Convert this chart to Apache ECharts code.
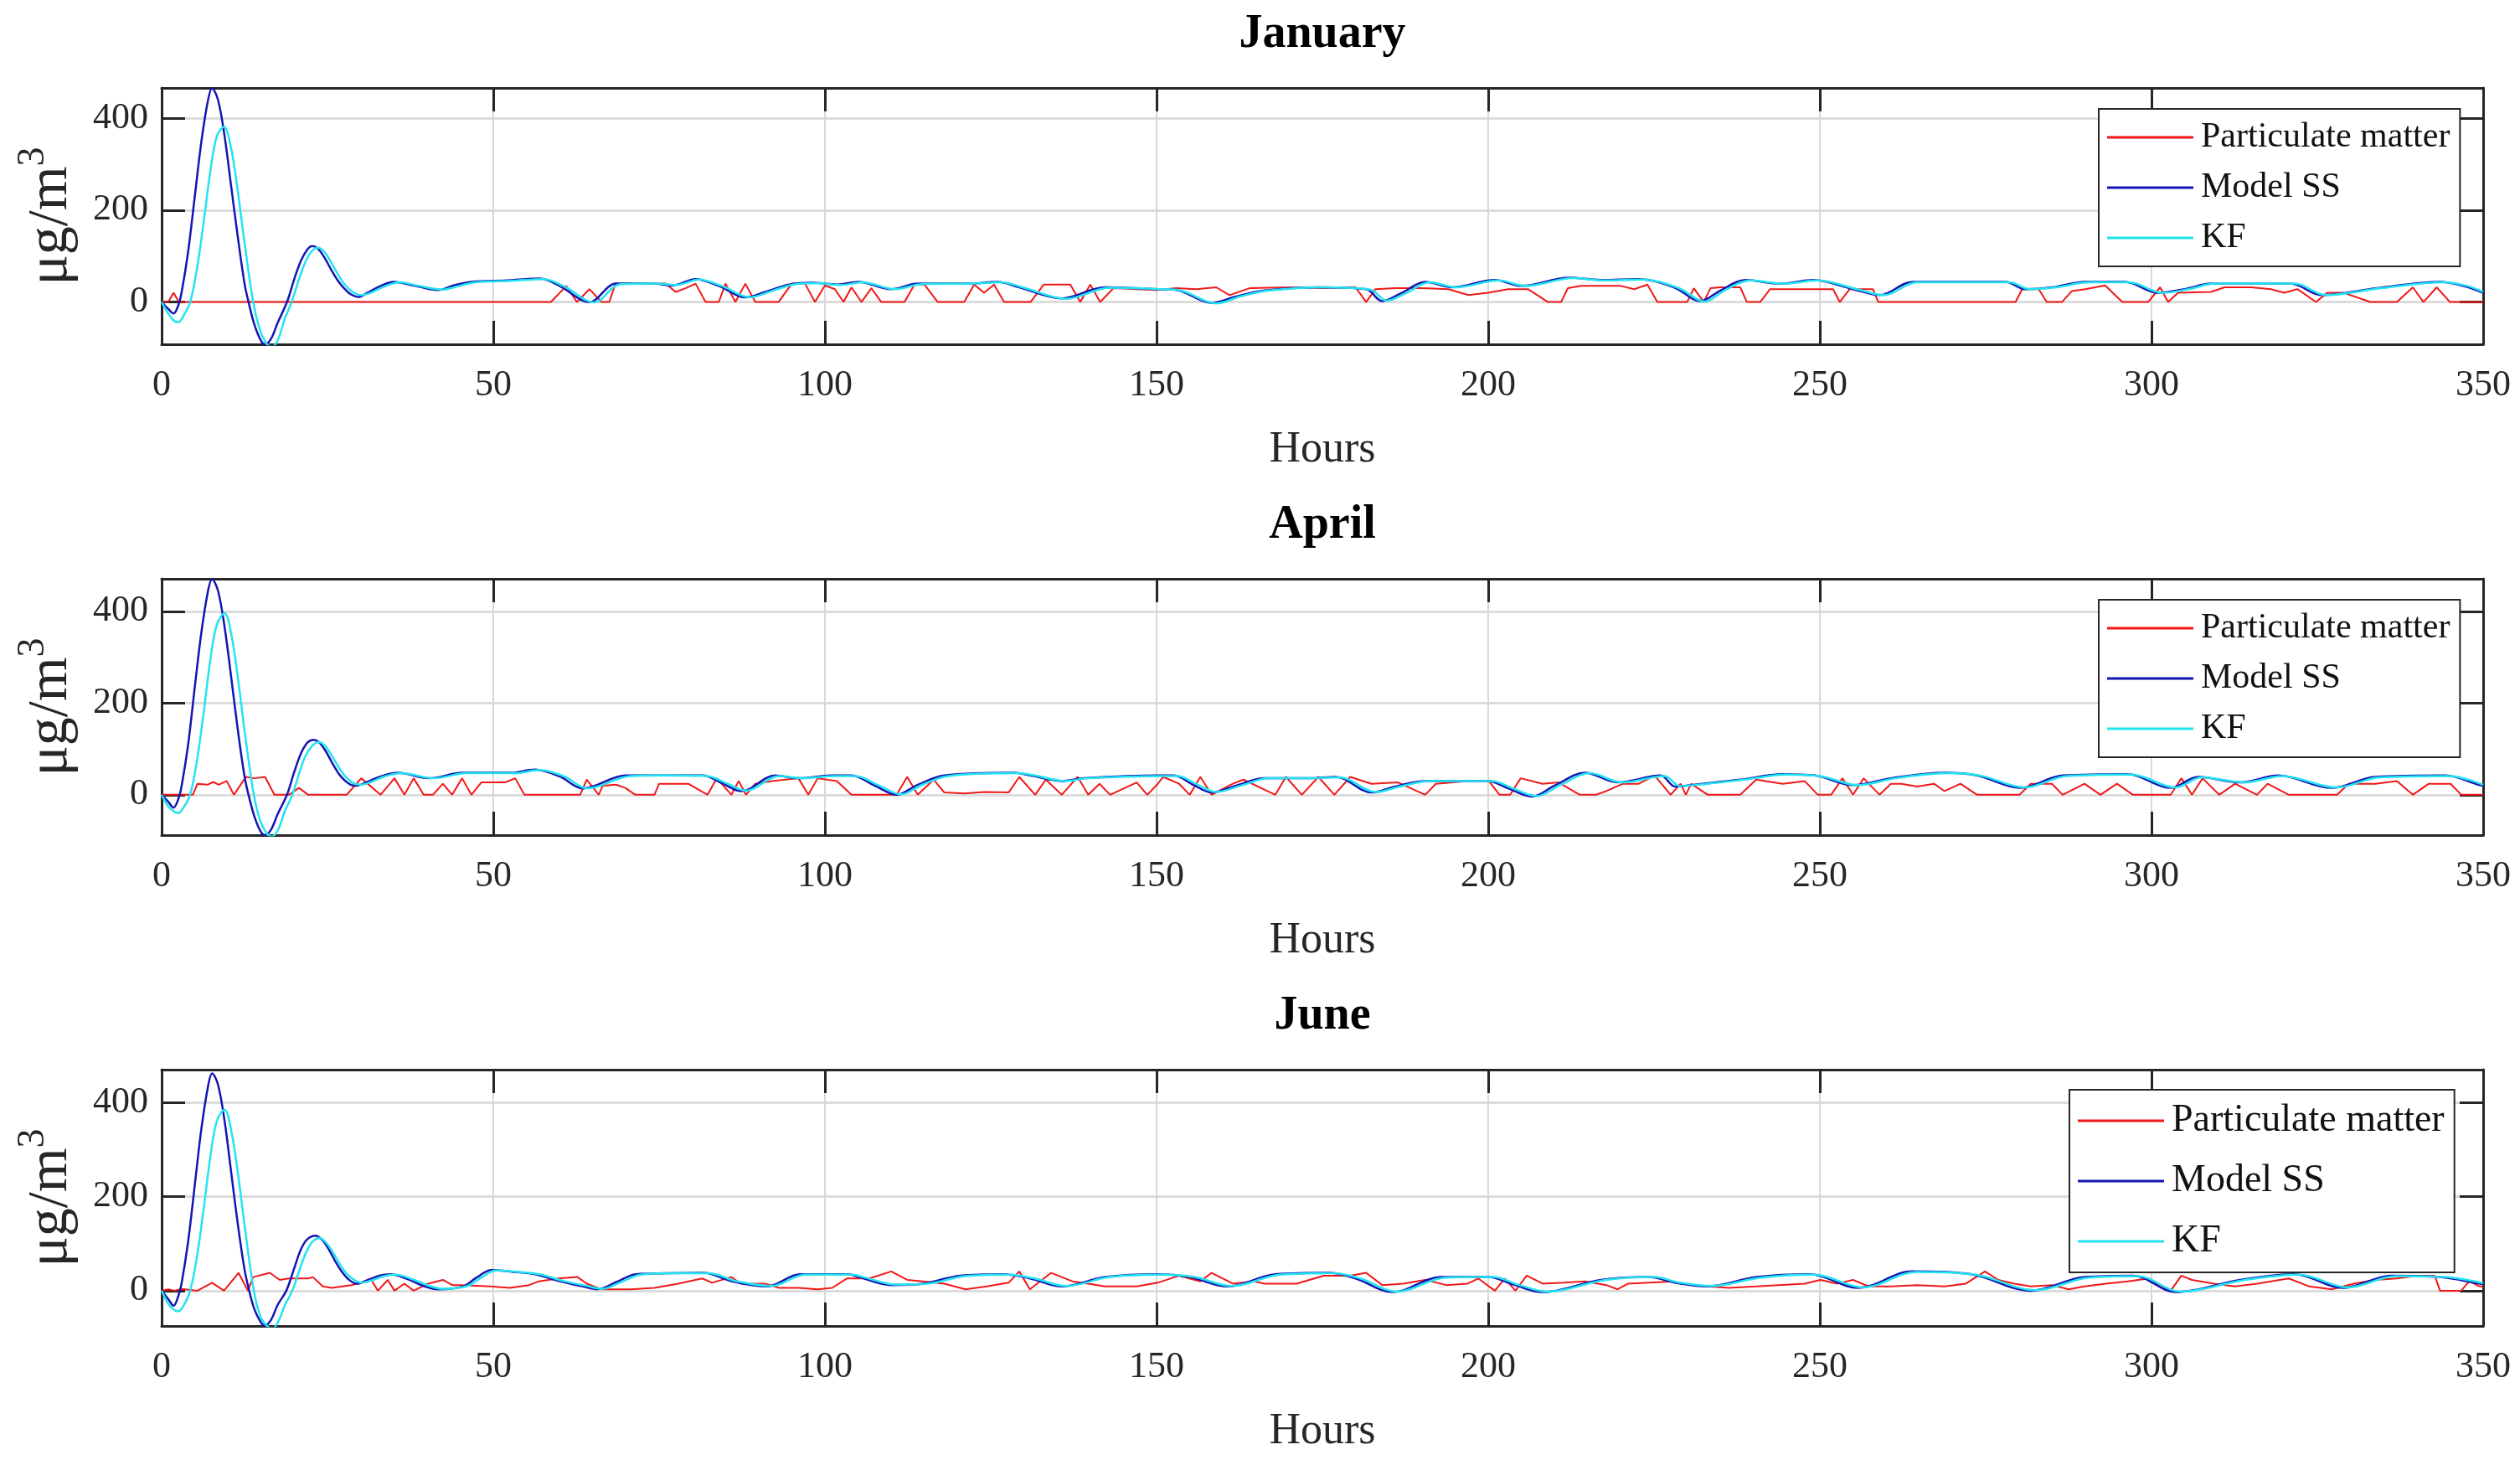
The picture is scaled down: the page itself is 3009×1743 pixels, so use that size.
<!DOCTYPE html>
<html><head><meta charset="utf-8">
<script src="https://cdn.jsdelivr.net/npm/echarts@6/dist/echarts.min.js"></script>
<style>html,body{margin:0;padding:0;background:#fff}#c{width:3009px;height:1743px}</style>
</head><body><div id="c"></div>
<script>
const months = ['January', 'April', 'June'];
const seriesNames = ['Particulate matter', 'Model SS', 'KF'];
const xTicks = [0, 50, 100, 150, 200, 250, 300, 350];
const yTicks = [0, 200, 400];
const yLimits = [[-92, 466], [-88, 471], [-75, 470]];

const janPM = [[0,0],[1,0],[1.8,20],[2.6,0],[58.7,0],[61,35],[62.6,0],[64.5,28],[66.3,0],[67.5,0],[68.4,40],[72,40],[76,40],[77.5,22],[79,30],[80.5,40],[82,0],[84,0],[85,40],[86.5,0],[88,40],[89.5,0],[93,0],[95,40],[97,40],[98.5,0],[100,36],[101.5,28],[102.8,0],[104,32],[105.5,0],[107,30],[108.5,0],[112,0],[113.5,38],[115,38],[117,0],[121,0],[122.5,38],[124,20],[125.5,38],[127,0],[131,0],[133,38],[137,38],[138.5,0],[140,38],[141.5,0],[143.5,30],[150,26],[153,30],[156,28],[159,32],[161,15],[164,30],[170,32],[175,30],[180,32],[181.6,0],[183,28],[186,30],[190,30],[194,28],[197,15],[200,20],[203,28],[206,28],[209,0],[211,0],[212,30],[214,35],[220,35],[222,28],[224,38],[225.5,0],[230,0],[231,30],[232.5,0],[233.5,30],[235,32],[238,32],[239,0],[241,0],[242.5,28],[246,28],[252,28],[253,0],[254.5,28],[258,28],[258.8,0],[261.5,0],[279.5,0],[280.5,28],[283,28],[284.2,0],[286.5,0],[288,24],[290,28],[293,36],[295.6,0],[299.5,0],[301.3,32],[302.5,0],[304,20],[309,22],[311,32],[315,32],[318,28],[320,20],[322,28],[324.8,0],[326.5,20],[329,20],[333,0],[337,0],[339.4,32],[341,0],[343,32],[345,0],[350,0]];
const janSS = [[0,0],[1,-15],[1.8,-25],[2.5,-8],[3,20],[4,110],[5,230],[6,350],[7,440],[7.6,465],[8.5,440],[9.5,360],[10.5,250],[11.5,140],[12.5,40],[13.1,0],[14,-50],[15,-85],[15.6,-92],[16.5,-80],[17.5,-45],[18.9,0],[20,50],[21,90],[22,115],[22.7,122],[23.5,117],[24.5,98],[25.5,72],[26.5,48],[27.5,30],[28.5,17],[29.7,11],[31,20],[33,35],[35,44],[38,36],[41.7,26],[44,36],[46.7,44],[52,47],[57,51],[60,35],[64.5,0],[68.5,40],[74,40],[77,36],[80.5,50],[84,35],[88,10],[91,22],[94.6,38],[98,42],[101.9,38],[105,44],[110,28],[114,40],[122,40],[126,44],[129.3,32],[135.7,8],[142.2,32],[150,28],[153,26],[158.3,-2],[162,12],[166.3,25],[174.4,32],[181.6,28],[184,2],[187,20],[190.5,44],[194.5,32],[201,48],[205,35],[212.2,53],[217,48],[222.7,50],[228,32],[232,2],[235,25],[238.8,48],[244,40],[249,48],[255,28],[259,15],[264,44],[278,44],[281,28],[285,32],[290,44],[296,44],[301,20],[305,28],[309,40],[321,40],[325.6,15],[334,30],[343.5,44],[347,35],[350,20]];
const janKF = [[0,0],[1,-25],[1.8,-40],[2.5,-44],[3.3,-30],[4.3,0],[5.3,70],[6.3,170],[7.3,280],[8.3,360],[9.4,381],[10.4,340],[11.4,250],[12.4,140],[13.8,0],[14.8,-60],[15.8,-90],[16.7,-97],[17.6,-80],[18.6,-35],[19.6,0],[20.6,45],[21.6,85],[22.6,110],[23.6,118],[24.6,108],[25.6,85],[26.6,60],[27.6,38],[28.8,22],[30,15],[31.5,20],[33.5,33],[35.8,43],[38.8,35],[42.4,27],[44.8,35],[47.4,43],[52.7,46],[57.6,50],[60.8,33],[65.2,-1],[69.2,39],[74.6,40],[77.6,37],[81,49],[84.6,34],[88.7,10],[91.6,22],[95.2,38],[98.6,41],[102.5,37],[105.6,43],[110.6,28],[114.6,39],[122.6,40],[126.6,43],[130,31],[136.4,7],[142.9,31],[150.6,28],[153.6,25],[159,-3],[162.6,12],[167,25],[175,32],[182.2,27],[184.7,3],[187.7,20],[191.2,43],[195.2,32],[201.6,47],[205.6,35],[212.8,52],[217.6,47],[223.3,49],[228.6,31],[232.7,1],[235.6,25],[239.5,47],[244.6,40],[249.6,47],[255.6,28],[259.7,15],[264.6,43],[278.6,43],[281.6,28],[285.6,32],[290.6,43],[296.6,43],[301.7,20],[305.6,28],[309.6,40],[321.6,40],[326.3,15],[334.6,30],[344.1,43],[347.6,35],[350,22]];

const aprPM = [[0,0],[4.7,0],[5.4,24],[6.9,22],[7.8,28],[8.6,22],[9.8,30],[10.9,0],[12.7,39],[14,36],[15.6,39],[17,0],[19.2,0],[20.7,15],[22.1,0],[27.9,0],[30.1,36],[33,0],[35.1,36],[36.6,0],[38,36],[39.5,0],[40.9,0],[42.4,24],[43.8,0],[45.3,36],[46.7,0],[48.2,27],[49.6,27],[51.8,27],[53.3,36],[54.7,0],[63.1,0],[64.1,33],[65.9,0],[66.5,20],[68.5,22],[69.9,15],[71.4,0],[74.3,0],[75,24],[77.9,24],[79.4,24],[82.3,0],[83.7,36],[85.9,0],[87,30],[88.1,0],[89.5,24],[92,30],[96,36],[97.5,0],[98.9,36],[101.8,30],[104,0],[110.8,0],[112.4,39],[114,0],[116.4,33],[118,5],[121,3],[124,6],[127.7,5],[129.3,39],[131.7,0],[133.3,33],[135.7,0],[138.1,39],[139.7,0],[141.4,24],[143,0],[147,27],[148.6,0],[150.2,24],[151,39],[153.4,24],[155,0],[156.6,39],[158.3,0],[161.5,24],[163.1,33],[167.9,0],[169.5,39],[171.9,0],[174.4,39],[176.8,0],[179.2,39],[182.4,24],[186.4,27],[190.5,0],[192.1,24],[196.9,30],[200.1,30],[201.7,0],[203.3,0],[204.9,36],[208.2,24],[210.6,27],[213.8,0],[216.2,0],[217.8,8],[220.3,24],[222.7,24],[225.1,42],[227.5,0],[229,24],[229.8,0],[230.6,24],[233.1,0],[238,0],[240.4,33],[244.4,24],[247.7,30],[249.7,0],[251.7,0],[253.4,36],[255,0],[256.6,36],[259,0],[260.7,24],[262.3,24],[264.7,18],[267.2,24],[268.8,8],[271.2,24],[273.7,0],[280.1,0],[281.8,24],[285,24],[286.6,0],[289.9,24],[292.3,0],[294.8,24],[297.2,0],[302.9,0],[304.5,36],[306.1,0],[307.7,36],[310.2,0],[312.6,24],[315.9,0],[317.5,24],[320.7,0],[328,0],[329.7,24],[333.7,24],[337,30],[339.4,0],[341.8,24],[345.1,24],[346.7,0],[350,0]];
const aprSS = [[0,0],[1,-15],[1.8,-28],[2.5,-10],[3,18],[4,110],[5,235],[6,355],[7,445],[7.6,470],[8.5,445],[9.5,365],[10.5,255],[11.5,140],[12.5,40],[13.1,0],[14,-48],[15,-82],[15.6,-88],[16.5,-76],[17.5,-42],[18.9,0],[20,50],[21,90],[22,114],[22.9,120],[23.7,115],[24.7,96],[25.7,70],[26.7,46],[27.7,30],[28.5,22],[29.4,20],[31,28],[33,40],[35.6,48],[40.3,36],[45.4,48],[52.6,48],[56.3,55],[60,40],[63.5,14],[70,42],[74.4,42],[81.6,42],[84.5,25],[87.4,8],[92.5,42],[96,36],[101,42],[104,42],[107.5,20],[110.8,0],[114,22],[118,42],[128.5,48],[131,42],[135.7,30],[139,36],[150.2,42],[152.6,42],[155.5,22],[158.3,5],[162,20],[166.3,36],[173,36],[177,39],[182.4,5],[186,18],[190.5,30],[200,30],[203,14],[206.6,-4],[210,20],[214.6,48],[219.5,27],[226,42],[228.2,18],[232.3,24],[238,33],[244.4,45],[249.3,42],[255,21],[260.7,36],[268.8,48],[273.7,42],[280.2,15],[286.6,42],[296.4,45],[302.9,15],[307,39],[313.4,27],[319.1,42],[327.2,15],[333.7,39],[344.3,42],[349.5,21],[350,20]];
const aprKF = [[0,0],[1,-25],[1.8,-36],[2.5,-40],[3.3,-28],[4.3,0],[5.3,72],[6.3,175],[7.3,290],[8.3,370],[9.5,396],[10.5,350],[11.5,255],[12.5,140],[13.9,0],[14.9,-58],[15.9,-85],[16.6,-91],[17.5,-78],[18.6,-35],[19.7,0],[20.7,45],[21.7,85],[22.8,108],[23.7,115],[24.7,106],[25.7,84],[26.7,60],[27.7,40],[28.8,26],[30,22],[31.6,28],[33.6,40],[36.2,47],[41,36],[46,47],[53.2,47],[57,54],[60.7,40],[64.2,14],[70.7,41],[75,42],[82.2,41],[85.2,25],[88.1,9],[93.1,41],[96.6,36],[101.6,41],[104.6,41],[108.2,20],[111.5,1],[114.7,22],[118.6,41],[129.1,47],[131.6,42],[136.4,30],[139.6,36],[150.8,41],[153.2,41],[156.2,22],[159,6],[162.7,20],[167,36],[173.6,36],[177.6,38],[183.1,6],[186.7,18],[191.2,30],[200.6,30],[203.7,14],[207.3,-3],[210.7,20],[215.3,47],[220.2,27],[226.6,41],[228.9,19],[233,24],[238.6,33],[245,44],[250,41],[255.7,21],[261.4,36],[269.4,47],[274.4,41],[280.9,16],[287.2,41],[297,44],[303.6,16],[307.6,38],[314,27],[319.7,41],[327.9,16],[334.4,38],[344.9,41],[350,22]];

const junPM = [[0,0],[1,3],[2,0],[3,4],[5.4,0],[7.6,17],[9.4,0],[11.6,38],[13,0],[13.8,29],[16.3,38],[17.8,23],[19.2,26],[22.1,26],[22.8,29],[24.3,9],[25.7,6],[28.6,12],[30.1,17],[31.5,26],[32.6,0],[34.1,23],[35.1,0],[36.6,15],[38,0],[40.2,15],[42.4,23],[43.8,12],[45.3,12],[49.6,9],[52.5,6],[55.4,12],[56.9,20],[59.8,26],[62.7,29],[64.1,15],[66.3,3],[70.7,3],[74.3,6],[77.9,15],[81.5,26],[83,17],[85.9,29],[87.3,15],[91,15],[93.1,6],[96,6],[98.9,3],[101.1,6],[103.3,26],[106.7,26],[110,41],[112.4,23],[114.8,20],[118,15],[121.2,3],[124.4,9],[127.7,17],[129.3,41],[130.9,3],[134.1,38],[137.3,20],[139.7,15],[142.2,9],[147,9],[150.2,17],[153.4,32],[156.6,20],[158.3,38],[161.5,15],[164.7,20],[166.3,15],[171.1,15],[175.2,32],[179.2,32],[181.6,38],[184,12],[187.2,15],[190.5,23],[193.7,12],[196.9,15],[198.5,26],[201,0],[202.5,26],[204.1,0],[205.8,32],[208.2,15],[211.4,17],[214.6,20],[217.8,12],[219.5,3],[221.1,15],[224.3,17],[228,20],[229,15],[233,9],[236.3,6],[240.4,9],[247.7,15],[250.1,23],[252.6,15],[255,23],[257.4,9],[260.7,9],[264.7,12],[268.8,9],[272,15],[274.9,41],[276.9,23],[279.3,15],[281.8,9],[285,12],[287.5,3],[289.9,9],[293.1,15],[296.4,20],[299.6,26],[301.3,9],[302.9,0],[304.5,32],[306.1,23],[309.4,15],[312.6,9],[315.9,15],[320.7,26],[323.8,9],[327.2,3],[330.5,15],[333.7,23],[337,26],[340.2,32],[342.7,32],[343.5,0],[346.7,0],[347.9,20],[349.5,9],[350,9]];
const junSS = [[0,0],[1,-18],[1.8,-32],[2.5,-12],[3,15],[4,105],[5,225],[6,345],[7,435],[7.6,462],[8.5,438],[9.5,360],[10.5,250],[11.5,140],[12.5,45],[13.2,0],[14,-40],[15,-68],[15.6,-74],[16.5,-62],[17.5,-30],[18.8,0],[20,48],[21,88],[22,110],[23.2,117],[24.2,108],[25.2,88],[26.2,62],[27.2,40],[28.2,24],[29.4,15],[31,22],[32.8,32],[34.5,35],[37,25],[39.5,10],[41.7,3],[45.4,9],[47.5,28],[49.7,44],[53,40],[56.3,35],[60,20],[63.5,9],[65.7,3],[68.5,18],[71.5,35],[76,37],[81.7,38],[86,20],[91.2,9],[96.3,35],[103.5,35],[105.1,29],[110,12],[114.8,15],[120.4,32],[126.9,35],[130.9,26],[135.7,9],[142.2,29],[150.2,35],[155,29],[160.7,9],[167.9,35],[176,38],[180,26],[185.6,-3],[192.9,29],[200,29],[204,12],[208.2,-3],[217,23],[224.3,29],[228.2,17],[233,9],[240.4,29],[248.5,35],[255.8,6],[263.9,41],[272.8,35],[281.8,0],[289.9,29],[297.2,32],[303.7,-3],[313.4,23],[321.5,35],[328.9,6],[336.2,32],[343.5,29],[349.5,15],[350,14]];
const junKF = [[0,0],[1,-28],[1.8,-40],[2.5,-44],[3.3,-32],[4.3,0],[5.3,70],[6.3,170],[7.3,280],[8.3,360],[9.5,385],[10.5,340],[11.5,250],[12.5,140],[13.9,0],[14.9,-55],[15.9,-75],[16.7,-80],[17.6,-65],[18.6,-30],[19.7,0],[20.8,45],[21.8,82],[22.8,105],[23.8,112],[24.8,102],[25.8,82],[26.8,58],[27.8,38],[28.9,24],[30.1,17],[31.7,22],[33.5,31],[35.2,34],[37.7,25],[40.2,11],[42.4,4],[46.1,10],[48.2,28],[50.4,43],[53.7,40],[57,35],[60.7,20],[64.2,10],[66.4,4],[69.2,18],[72.2,34],[76.7,37],[82.4,37],[86.7,20],[91.9,10],[97,34],[104.2,34],[105.8,29],[110.7,13],[115.5,15],[121.1,31],[127.6,34],[131.6,26],[136.4,10],[142.9,29],[150.9,34],[155.7,29],[161.4,10],[168.6,34],[176.7,37],[180.7,26],[186.3,-2],[193.6,28],[200.7,29],[204.7,12],[208.9,-2],[217.7,23],[225,29],[228.9,17],[233.7,10],[241.1,28],[249.2,34],[256.5,7],[264.6,40],[273.5,34],[282.5,1],[290.6,28],[297.9,31],[304.4,-2],[314.1,23],[322.2,34],[329.6,7],[336.9,31],[344.2,29],[350,16]];

const panelData = [[janPM, janSS, janKF], [aprPM, aprSS, aprKF], [junPM, junSS, junKF]];

// ---- layout & style ----
const FONT = 'Liberation Serif';
const INK = '#262626';
const gridTops = [105, 691, 1277];
const GRID_H = 306, GRID_L = 193, GRID_R = 44;
const lineColors = ['#f01818', '#1414b4', '#22e4f0'];
const lineWidths = [2, 2.5, 2.5];
const legendPos = [
  {left: 2506, top: 130, fs: 42, gap: 18, pad: [13, 12, 13, 10]},
  {left: 2506, top: 716, fs: 42, gap: 18, pad: [13, 12, 13, 10]},
  {left: 2471, top: 1301, fs: 46, gap: 26, pad: [14, 12, 14, 10]}
];

const frameLine = {show: true, onZero: false, lineStyle: {color: INK, width: 3}};
const frameTick = {show: true, inside: true, length: 28, lineStyle: {color: INK, width: 3}};

const grids = [], xAxes = [], yAxes = [], series = [], legends = [], graphics = [];
gridTops.forEach((top, i) => {
  grids.push({left: GRID_L, right: GRID_R, top: top, height: GRID_H, show: false});
  xAxes.push({
    gridIndex: i, type: 'value', min: xTicks[0], max: xTicks[xTicks.length - 1], interval: 50, position: 'bottom',
    axisLine: frameLine, axisTick: frameTick,
    axisLabel: {show: true, margin: 27, fontSize: 44, fontFamily: FONT, color: INK},
    splitLine: {show: true, lineStyle: {color: '#d8d8d8', width: 2}},
    name: 'Hours', nameLocation: 'middle', nameGap: 100,
    nameTextStyle: {fontSize: 52, fontFamily: FONT, color: INK}
  });
  xAxes.push({
    gridIndex: i, type: 'value', min: xTicks[0], max: xTicks[xTicks.length - 1], interval: 50, position: 'top',
    axisLine: frameLine, axisTick: frameTick, axisLabel: {show: false}, splitLine: {show: false}
  });
  yAxes.push({
    gridIndex: i, type: 'value', min: yLimits[i][0], max: yLimits[i][1], position: 'left',
    axisLine: frameLine,
    axisTick: Object.assign({customValues: yTicks}, frameTick),
    axisLabel: {show: true, customValues: yTicks, margin: 16, fontSize: 44, fontFamily: FONT, color: INK},
    splitLine: {show: true, lineStyle: {color: '#dcdcdc', width: 3}},
    name: '{a|μg/m}{b|3}', nameLocation: 'middle', nameGap: 98,
    nameTextStyle: {fontFamily: FONT, color: INK, rich: {
      a: {fontSize: 68, fontFamily: FONT, color: INK, verticalAlign: 'bottom'},
      b: {fontSize: 46, fontFamily: FONT, color: INK, verticalAlign: 'bottom', padding: [0, 0, 32, 0]}
    }}
  });
  yAxes.push({
    gridIndex: i, type: 'value', min: yLimits[i][0], max: yLimits[i][1], position: 'right',
    axisLine: frameLine,
    axisTick: Object.assign({customValues: yTicks}, frameTick),
    axisLabel: {show: false}, splitLine: {show: false}
  });
  panelData[i].forEach((d, j) => {
    series.push({
      type: 'line', name: seriesNames[j], xAxisIndex: 2 * i, yAxisIndex: 2 * i, data: d,
      symbol: 'none', showSymbol: false, smooth: j === 0 ? false : 0.35,
      lineStyle: {color: lineColors[j], width: lineWidths[j]},
      itemStyle: {color: lineColors[j]}, z: 2, animation: false
    });
  });
  const L = legendPos[i];
  legends.push({
    data: seriesNames, orient: 'vertical', left: L.left, top: L.top,
    icon: 'rect', itemWidth: 103, itemHeight: 3, itemGap: L.gap, padding: L.pad,
    borderColor: INK, borderWidth: 2, backgroundColor: '#fff', selectedMode: false,
    textStyle: {fontSize: L.fs, fontFamily: FONT, color: '#111', padding: [0, 0, 0, 4]}
  });
  graphics.push({
    type: 'text', x: GRID_L + (3009 - GRID_L - GRID_R) / 2, y: top - 63, z: 10,
    style: {text: months[i], textAlign: 'center', textVerticalAlign: 'middle',
      font: 'bold 56px "Liberation Serif"', fill: '#000'}
  });
});

const chart = echarts.init(document.getElementById('c'), null, {renderer: 'canvas', width: 3009, height: 1743});
chart.setOption({
  animation: false,
  backgroundColor: '#fff',
  grid: grids, xAxis: xAxes, yAxis: yAxes, series: series, legend: legends,
  graphic: graphics
});
</script></body></html>
